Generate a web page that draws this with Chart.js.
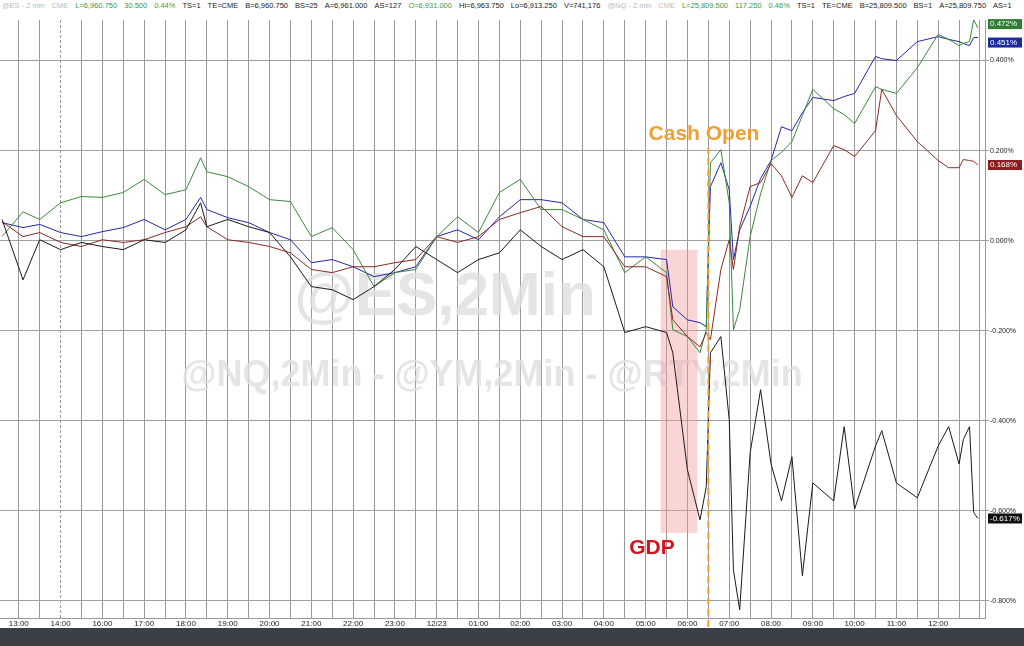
<!DOCTYPE html>
<html>
<head>
<meta charset="utf-8">
<script src="https://cdn.jsdelivr.net/npm/chart.js@4"></script>
<style>
  body { margin: 0; background: #fff; width: 1024px; height: 646px; overflow: hidden; position: relative; font-family: "Liberation Sans", Arial, sans-serif; }
  #wrap { position: absolute; left: 0; top: 0; width: 1024px; height: 628px; }
  #hdr { position: absolute; left: 2px; top: 1px; font-size: 7.5px; color: #222; white-space: nowrap; z-index: 2; background: #fff; }
  #hdr span { margin-right: 7px; }
  #hdr .g { color: #3a9a3a; }
  #hdr .l { color: #bbb; }
  #bar { position: absolute; left: 0; top: 628px; width: 1024px; height: 18px; background: #3b4048; }
</style>
</head>
<body>
<div id="hdr">
  <span class="l">@ES - 2 min</span><span class="l">CME</span><span class="g">L=6,960.750</span><span class="g">30.500</span><span class="g">0.44%</span><span>TS=1</span><span>TE=CME</span><span>B=6,960.750</span><span>BS=25</span><span>A=6,961.000</span><span>AS=127</span><span class="g">O=6,931.000</span><span>Hi=6,963.750</span><span>Lo=6,913.250</span><span>V=741,176</span><span class="l">@NQ - 2 min</span><span class="l">CME</span><span class="g">L=25,809.500</span><span class="g">117.250</span><span class="g">0.46%</span><span>TS=1</span><span>TE=CME</span><span>B=25,809.500</span><span>BS=1</span><span>A=25,809.750</span><span>AS=1</span>
</div>
<div id="wrap"><canvas id="chart"></canvas></div>
<div id="bar"></div>
<script>
'use strict';

// x position = hour slot (0 = 13:00, 1 = 14:00, 2 = 16:00 ... 22 = 12:00)
const hourLabels = ['13:00','14:00','16:00','17:00','18:00','19:00','20:00','21:00','22:00','23:00','12/23',
  '01:00','02:00','03:00','04:00','05:00','06:00','07:00','08:00','09:00','10:00','11:00','12:00'];
const yTicks = [-0.8, -0.6, -0.4, -0.2, 0, 0.2, 0.4];

const times = [-0.4,0.1,0.5,1,1.5,2,2.5,3,3.5,4,
  4.35,4.5,5,5.5,6,6.5,7,7.5,8,8.5,
  9,9.5,10,10.5,11,11.5,12,12.5,13,13.5,
  14,14.5,15,15.5,15.65,16,16.3,16.45,16.55,16.8,
  17,17.1,17.25,17.5,17.75,18,18.25,18.5,18.75,19,
  19.5,19.75,20,20.5,20.65,21,21.5,22,22.25,22.5,
  22.6,22.75,22.85,22.95];

const rtyPct = [0.047,-0.087,0.002,-0.02,-0.004,-0.013,-0.02,0.002,-0.004,0.024,
  0.084,0.031,0.047,0.031,0.018,-0.036,-0.102,-0.109,-0.131,-0.102,
  -0.064,-0.013,-0.042,-0.071,-0.042,-0.027,0.024,-0.013,-0.042,-0.02,
  -0.058,-0.204,-0.191,-0.204,-0.249,-0.509,-0.62,-0.547,-0.249,-0.213,
  -0.398,-0.731,-0.82,-0.471,-0.331,-0.496,-0.578,-0.48,-0.744,-0.538,
  -0.578,-0.413,-0.596,-0.456,-0.422,-0.538,-0.571,-0.456,-0.413,-0.496,
  -0.442,-0.413,-0.604,-0.617];

const nqPct = [0.009,0.064,0.047,0.084,0.098,0.096,0.107,0.136,0.102,0.113,
  0.184,0.153,0.142,0.12,0.091,0.087,0.009,0.029,-0.02,-0.102,
  -0.071,-0.064,0.009,0.053,0.018,0.107,0.136,0.069,0.069,0.047,
  0.024,-0.071,-0.036,-0.071,-0.198,-0.213,-0.249,-0.198,0.173,0.202,
  0.084,-0.198,-0.153,0.009,0.104,0.178,0.196,0.22,0.278,0.336,
  0.293,0.28,0.26,0.342,0.336,0.327,0.384,0.458,0.447,0.433,
  0.438,0.442,0.491,0.472];

const esPct = [0.04,0.029,0.036,0.018,0.009,0.02,0.029,0.047,0.024,0.047,
  0.096,0.069,0.051,0.04,0.018,0.002,-0.049,-0.042,-0.058,-0.08,
  -0.071,-0.058,0.009,0.024,0.002,0.053,0.091,0.091,0.084,0.047,
  0.04,-0.036,-0.036,-0.042,-0.147,-0.176,-0.182,-0.191,0.12,0.173,
  0.113,-0.042,0.024,0.076,0.138,0.178,0.253,0.244,0.284,0.318,
  0.311,0.32,0.327,0.409,0.404,0.4,0.442,0.453,0.447,0.442,
  0.438,0.433,0.451,0.451];

const ymPct = [0.042,0.009,0.018,-0.004,-0.013,0.002,-0.004,0.002,0.018,0.031,
  0.053,0.031,0.002,-0.004,-0.013,-0.027,-0.064,-0.071,-0.058,-0.058,
  -0.049,-0.042,0.009,-0.004,0.009,0.047,0.062,0.076,0.031,0.009,
  0.009,-0.058,-0.058,-0.08,-0.176,-0.213,-0.236,-0.204,-0.22,-0.064,
  0.002,-0.064,0.031,0.12,0.129,0.171,0.144,0.096,0.144,0.129,
  0.211,0.202,0.187,0.244,0.336,0.278,0.22,0.178,0.162,0.162,
  0.18,0.178,0.176,0.168];

const gdpWindow = [15.36, 16.24];   // shaded GDP release box (hour slots)
const gdpRange = [-0.649, -0.02];
const cashOpen = 16.5;

function series(vals) {
  return times.map((t, i) => ({ x: t, y: vals[i] }));
}

function fmt(v) {
  return v.toFixed(3) + '%';
}

const extras = {
  id: 'extras',
  beforeDatasetsDraw(chart) {
    const { ctx, scales: { x, y } } = chart;
    ctx.save();
    ctx.fillStyle = 'rgba(222,222,226,0.8)';
    ctx.textAlign = 'center';
    ctx.textBaseline = 'middle';
    ctx.font = 'bold 62px "Liberation Sans", Arial, sans-serif';
    ctx.fillText('@ES,2Min', 445, 298);
    ctx.font = 'bold 36px "Liberation Sans", Arial, sans-serif';
    ctx.fillText('@NQ,2Min - @YM,2Min - @RTY,2Min', 492, 376);
    ctx.fillStyle = 'rgba(240,150,150,0.4)';
    const x0 = x.getPixelForValue(gdpWindow[0]), x1 = x.getPixelForValue(gdpWindow[1]);
    const y0 = y.getPixelForValue(gdpRange[1]), y1 = y.getPixelForValue(gdpRange[0]);
    ctx.fillRect(x0, y0, x1 - x0, y1 - y0);
    ctx.restore();
  },
  afterDatasetsDraw(chart) {
    const { ctx, scales: { x, y }, chartArea: a } = chart;
    ctx.save();
    const cx = x.getPixelForValue(cashOpen);
    ctx.strokeStyle = '#f0a030';
    ctx.lineWidth = 2;
    ctx.setLineDash([7, 4]);
    ctx.beginPath();
    ctx.moveTo(cx, 147);
    ctx.lineTo(cx, a.bottom + 10);
    ctx.stroke();
    ctx.setLineDash([]);
    ctx.font = 'bold 21px "Liberation Sans", Arial, sans-serif';
    ctx.textBaseline = 'middle';
    ctx.textAlign = 'center';
    ctx.fillStyle = '#f0a030';
    ctx.fillText('Cash Open', 704, 134);
    ctx.fillStyle = '#d0141c';
    ctx.fillText('GDP', 652, 548);
    // last-value badges
    const badges = [
      [nqPct, '#2e7d32', -4], [esPct, '#1c2aa0', 5], [ymPct, '#8b1e1e', 0], [rtyPct, '#111', 0]
    ];
    ctx.font = '8px "Liberation Sans", Arial, sans-serif';
    ctx.textAlign = 'left';
    badges.forEach(([vals, col, off]) => {
      const v = vals[vals.length - 1];
      const py = y.getPixelForValue(v) + off;
      ctx.fillStyle = col;
      ctx.fillRect(988, py - 5, 34, 10);
      ctx.fillStyle = '#fff';
      ctx.fillText(fmt(v), 990, py);
    });
    ctx.restore();
  }
};

const lineDs = (label, vals, col) => ({
  label, data: series(vals), borderColor: col, borderWidth: 1, pointRadius: 0, tension: 0, fill: false
});

new Chart(document.getElementById('chart'), {
  type: 'line',
  data: {
    datasets: [
      lineDs('RTY', rtyPct, '#1a1a1a'),
      lineDs('YM', ymPct, '#8b2a22'),
      lineDs('NQ', nqPct, '#3a8a3a'),
      lineDs('ES', esPct, '#2626a8')
    ]
  },
  options: {
    responsive: true,
    maintainAspectRatio: false,
    animation: false,
    layout: { padding: { top: 20, left: 0, right: 0, bottom: 0 } },
    plugins: { legend: { display: false }, tooltip: { enabled: false } },
    scales: {
      x: {
        type: 'linear', min: -0.45, max: 23.12,
        afterBuildTicks: s => { s.ticks = []; for (let v = -0.5; v <= 23; v += 0.5) if (v >= -0.45) s.ticks.push({ value: v }); },
        afterFit: s => { s.height = 10; },
        ticks: {
          autoSkip: false, maxRotation: 0, padding: 1, color: '#222',
          font: { size: 8, family: '"Liberation Sans Narrow", "Liberation Sans", Arial' },
          callback: v => Number.isInteger(v) && v >= 0 && v < hourLabels.length ? hourLabels[v] : ''
        },
        grid: { color: '#9a9a9a', lineWidth: 1, drawTicks: false },
        border: { display: true, color: '#9a9a9a', dash: c => (c.tick && c.tick.value === 1) ? [3, 2] : [] }
      },
      y: {
        position: 'right', min: -0.838, max: 0.49,
        afterBuildTicks: s => { s.ticks = yTicks.map(v => ({ value: v })); },
        afterFit: s => { s.width = 39; },
        ticks: { padding: 1, color: '#222', font: { size: 7, family: '"Liberation Sans", Arial' }, callback: v => fmt(v) },
        grid: { color: '#a0a0a0', lineWidth: 1, tickLength: 4 },
        border: { color: '#9a9a9a' }
      }
    }
  },
  plugins: [extras]
});
</script>
</body>
</html>
